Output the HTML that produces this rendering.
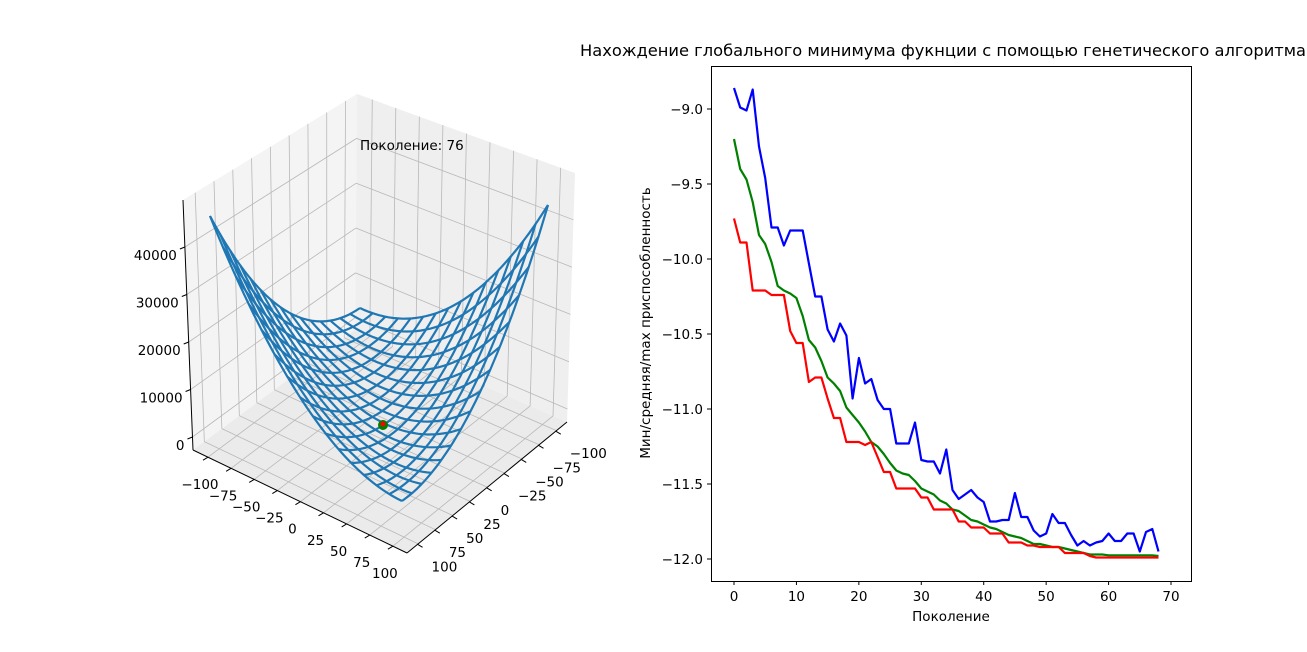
<!DOCTYPE html>
<html><head><meta charset="utf-8">
<style>
body{margin:0;background:#fff;width:1307px;height:647px;overflow:hidden;font-family:"Liberation Sans","DejaVu Sans",sans-serif;}
svg text{font-family:"DejaVu Sans","Liberation Sans",sans-serif;}
</style></head>
<body>
<svg id="fig" width="1307" height="647" viewBox="0 0 1307 647" xmlns="http://www.w3.org/2000/svg">
<g id="plot3d"></g>
<g id="plot2d"></g>
</svg>
<script>
// ---- Line chart data ----
const generations = Array.from({length:69},(_,i)=>i);
const maxFitness = [-8.86,-8.99,-9.01,-8.87,-9.25,-9.46,-9.79,-9.79,-9.91,-9.81,-9.81,-9.81,-10.03,-10.25,-10.25,-10.47,-10.55,-10.43,-10.51,-10.93,-10.66,-10.83,-10.80,-10.94,-11.0,-11.0,-11.23,-11.23,-11.23,-11.09,-11.34,-11.35,-11.35,-11.43,-11.27,-11.54,-11.6,-11.57,-11.54,-11.59,-11.62,-11.75,-11.75,-11.74,-11.74,-11.56,-11.72,-11.72,-11.81,-11.85,-11.83,-11.7,-11.76,-11.76,-11.84,-11.91,-11.88,-11.91,-11.89,-11.88,-11.83,-11.88,-11.88,-11.83,-11.83,-11.95,-11.82,-11.8,-11.95];
const meanFitness = [-9.2,-9.4,-9.47,-9.62,-9.84,-9.9,-10.02,-10.18,-10.21,-10.23,-10.26,-10.38,-10.54,-10.59,-10.68,-10.79,-10.83,-10.88,-10.99,-11.04,-11.09,-11.15,-11.22,-11.25,-11.3,-11.36,-11.41,-11.43,-11.44,-11.48,-11.53,-11.55,-11.57,-11.61,-11.63,-11.67,-11.68,-11.71,-11.74,-11.75,-11.77,-11.79,-11.8,-11.82,-11.84,-11.85,-11.86,-11.88,-11.9,-11.9,-11.91,-11.92,-11.92,-11.93,-11.94,-11.95,-11.96,-11.97,-11.97,-11.97,-11.975,-11.975,-11.975,-11.975,-11.975,-11.975,-11.975,-11.975,-11.98];
const minFitness = [-9.73,-9.89,-9.89,-10.21,-10.21,-10.21,-10.24,-10.24,-10.24,-10.48,-10.56,-10.56,-10.82,-10.79,-10.79,-10.93,-11.06,-11.06,-11.22,-11.22,-11.22,-11.24,-11.22,-11.32,-11.42,-11.42,-11.53,-11.53,-11.53,-11.53,-11.59,-11.59,-11.67,-11.67,-11.67,-11.67,-11.75,-11.75,-11.79,-11.79,-11.79,-11.83,-11.83,-11.83,-11.89,-11.89,-11.89,-11.91,-11.91,-11.92,-11.92,-11.92,-11.92,-11.96,-11.96,-11.96,-11.96,-11.98,-11.99,-11.99,-11.99,-11.99,-11.99,-11.99,-11.99,-11.99,-11.99,-11.99,-11.99];
const xTicks = [0,10,20,30,40,50,60,70];
const yTicks = [-9.0,-9.5,-10.0,-10.5,-11.0,-11.5,-12.0];

const NS="http://www.w3.org/2000/svg";
function mk(tag,attrs,parent){const e=document.createElementNS(NS,tag);for(const k in attrs)e.setAttribute(k,attrs[k]);parent.appendChild(e);return e;}

(function(){
const g=document.getElementById('plot2d');
const X=i=>734+6.243*i, Y=v=>109+(-9-v)*150;
const frame=mk('rect',{x:711.5,y:66.5,width:480,height:515,fill:'#fff',stroke:'#000','stroke-width':1},g);


const series=[[maxFitness,'#0000ff','max-fitness-line'],[meanFitness,'#008000','mean-fitness-line'],[minFitness,'#ff0000','min-fitness-line']];
series.forEach(([arr,c,n])=>{
 const p=mk('polyline',{points:arr.map((v,i)=>X(generations[i]).toFixed(1)+','+Y(v).toFixed(1)).join(' '),fill:'none',stroke:c,'stroke-width':2.2,'stroke-linejoin':'round'},g);
 
 
});
xTicks.forEach(t=>{
 mk('line',{x1:X(t),x2:X(t),y1:581,y2:585,stroke:'#000'},g);
 const tx=mk('text',{x:X(t),y:601,'font-size':13.5,'text-anchor':'middle'},g);tx.textContent=t;
 
 
});
yTicks.forEach(t=>{
 mk('line',{x1:707,x2:711,y1:Y(t),y2:Y(t),stroke:'#000'},g);
 const tx=mk('text',{x:703,y:Y(t)+5,'font-size':13.5,'text-anchor':'end'},g);tx.textContent=t.toFixed(1).replace('-','−');
 
 
});
const xl=mk('text',{x:951,y:621,'font-size':13.5,'text-anchor':'middle'},g);xl.textContent='Поколение';


const yl=mk('text',{x:0,y:0,'font-size':13.5,'text-anchor':'middle',transform:'translate(650,323) rotate(-90)'},g);yl.textContent='Мин/средняя/max приспособленность';


const ti=mk('text',{x:580,y:56,'font-size':16.3},g);ti.textContent='Нахождение глобального минимума фукнции с помощью генетического алгоритма';


})();

// ---- 3D surface ----
const surfGrid = 16;
(function(){
const g=document.getElementById('plot3d');
const TL=[183,200],BL=[193,450],TB=[357,94],TR=[575,173],BR=[567,422],FF=[407,553],BB=[355,330];
const L=(a,b,t)=>[a[0]+(b[0]-a[0])*t,a[1]+(b[1]-a[1])*t];
const poly=(pts,fill,n)=>{const p=mk('polygon',{points:pts.map(q=>q.join(',')).join(' '),fill:fill,stroke:'none'},g);};
poly([TL,TB,BB,BL],'#f4f4f4','left-pane');
poly([TB,TR,BR,BB],'#efefef','right-pane');
poly([BL,BB,BR,FF],'#ebebeb','floor-pane');
const gl=(a,b)=>mk('line',{x1:a[0],y1:a[1],x2:b[0],y2:b[1],stroke:'#b8b8b8','stroke-width':0.8},g);
for(let k=0;k<9;k++){
 const t=0.07+k*0.108;
 const a=L(BL,FF,t),b=L(BB,BR,t),c=L(TB,TR,t);gl(a,b);gl(b,c);
 const d=L(FF,BR,t),e=L(BL,BB,t),f=L(TL,TB,t);gl(d,e);gl(e,f);
}
for(let k=0;k<5;k++){
 const f=0.948-k*0.19;
 const a=L(TL,BL,f),b=L(TB,BB,f),c=L(TR,BR,f);gl(a,b);gl(b,c);
}
const ax=(a,b)=>mk('line',{x1:a[0],y1:a[1],x2:b[0],y2:b[1],stroke:'#000','stroke-width':1},g);
ax(BL,FF);ax(FF,BR);ax(TL,BL);
const lab=(x,y,s,anchor,n)=>{const t=mk('text',{x:x,y:y,'font-size':13.5,'text-anchor':anchor},g);t.textContent=s;};
const ticks=[-100,-75,-50,-25,0,25,50,75,100];
ticks.forEach((v,k)=>{
 const t=0.07+k*0.108;const p=L(BL,FF,t);
 mk('line',{x1:p[0],y1:p[1],x2:p[0]-5,y2:p[1]+3,stroke:'#000'},g);
 lab(p[0]-8,p[1]+32,String(v).replace('-','−'),'middle','x-tick-label-3d');
 const q=L(BR,FF,t);
 mk('line',{x1:q[0],y1:q[1],x2:q[0]+5,y2:q[1]+3,stroke:'#000'},g);
 lab(q[0]+14,q[1]+27,String(v).replace('-','−'),'start','y-tick-label-3d');
});
[0,10000,20000,30000,40000].forEach((v,k)=>{
 const p=L(TL,BL,0.948-k*0.19);
 mk('line',{x1:p[0],y1:p[1],x2:p[0]-5,y2:p[1]+2,stroke:'#000'},g);
 lab(p[0]-8,p[1]+13,String(v),'end','z-tick-label-3d');
});
const C=[381,404.5],ex=[0.95,0.455],ey=[-0.74,0.51],ez=[-0.00005,-0.00485];
const P=(x,y)=>{const z=(x-y)*(x-y);return [C[0]+x*ex[0]+y*ey[0]+z*ez[0],C[1]+x*ex[1]+y*ey[1]+z*ez[1]];};
const n=surfGrid;
for(let i=0;i<n;i++){
 const a=-100+200*i/(n-1);
 const p1=[],p2=[];
 for(let j=0;j<=40;j++){const b=-100+200*j/40;p1.push(P(a,b));p2.push(P(b,a));}
 [p1,p2].forEach(pp=>{const l=mk('polyline',{points:pp.map(q=>q[0].toFixed(1)+','+q[1].toFixed(1)).join(' '),fill:'none',stroke:'#1f77b4','stroke-width':2.2},g);
 
 });
}
const dot=mk('circle',{cx:383,cy:425,r:5,fill:'#008000'},g);


mk('circle',{cx:383,cy:424,r:2.5,fill:'#ff0000'},g);
lab(360,150,'Поколение: 76','start','generation-label');
})();
</script>
</body></html>
